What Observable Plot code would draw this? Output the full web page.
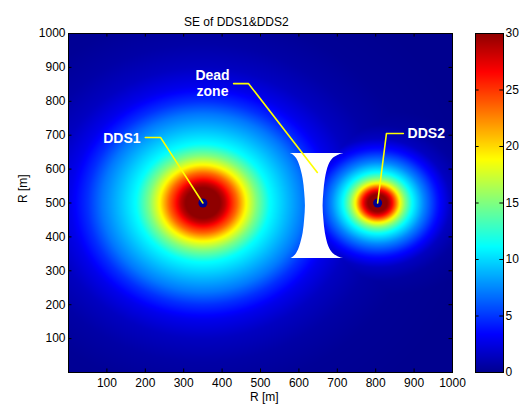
<!DOCTYPE html>
<html><head><meta charset="utf-8">
<script src="https://cdn.jsdelivr.net/npm/d3@7"></script>
<script src="https://cdn.jsdelivr.net/npm/@observablehq/plot@0.6"></script>
<style>
body{margin:0;background:#fff;}
#wrap{position:relative;width:521px;height:408px;font-family:"Liberation Sans",Arial,sans-serif;}
#wrap svg{position:absolute;top:0;}
</style></head><body><div id="wrap"></div>
<script>
// ---- data ----
const title = "SE of DDS1&DDS2";
const xLabel = "R [m]";
const yLabel = "R [m]";
const xTicks = [100, 200, 300, 400, 500, 600, 700, 800, 900, 1000];
const yTicks = [100, 200, 300, 400, 500, 600, 700, 800, 900, 1000];
const cbTicks = [0, 5, 10, 15, 20, 25, 30];
const cbInnerTicks = [5, 10, 15, 20, 25];
const sourceNames = ["DDS1", "DDS2"];
const sourceX = [350, 805];
const sourceY = [500, 500];
// radial SE profiles (distance in m -> SE)
const dds1Dist = [0, 45, 58, 70, 89, 112, 140, 174, 220, 263, 300, 345, 400, 470, 560, 700];
const dds1SE   = [30, 30, 28.5, 26.3, 23.4, 19, 15, 11.2, 9, 7, 4.8, 2.8, 1.5, 0.7, 0.2, 0];
const dds2Dist = [0, 25, 32, 39, 47, 58, 72, 90, 120, 155, 190, 230, 300];
const dds2SE   = [30, 30, 28.5, 26.3, 23.4, 18.8, 15, 11.2, 7.5, 4, 1.5, 0.5, 0];
// dead zone outline
const deadY     = [336, 341, 351, 371, 411, 451, 491, 531, 571, 611, 631, 641, 646];
const deadLeft  = [578, 586, 594, 602, 611, 615, 617, 615, 611, 602, 594, 586, 578];
const deadRight = [717, 703, 689, 678, 669, 665, 663, 665, 669, 678, 689, 703, 717];
// annotations
const centeredText = ["DDS1", "Dead\nzone"];
const centeredX = [139, 375];
const centeredY = [693, 855];
const startText = ["DDS2"];
const startX = [883];
const startY = [708];
const leaderId = ["a", "a", "a", "b", "b", "b", "c", "c", "c"];
const leaderX  = [200, 240, 350, 430, 469, 648, 872, 828, 805];
const leaderY  = [693, 693, 500, 852, 852, 590, 705, 705, 500];

// ---- derived tables ----
const sources = sourceNames.map((n, i) => ({name: n, x: sourceX[i], y: sourceY[i], v: 0}));
const deadRows = deadY.map((y, i) => ({y, left: deadLeft[i], right: deadRight[i]}));
const centered = centeredText.map((t, i) => ({t, x: centeredX[i], y: centeredY[i]}));
const started = startText.map((t, i) => ({t, x: startX[i], y: startY[i]}));
const leaders = leaderId.map((id, i) => ({id, x: leaderX[i], y: leaderY[i]}));
const se1 = d3.scaleLinear(dds1Dist, dds1SE).clamp(true);
const se2 = d3.scaleLinear(dds2Dist, dds2SE).clamp(true);
const field = (x, y) => Math.max(
  se1(Math.hypot(x - sourceX[0], y - sourceY[0])),
  se2(Math.hypot(x - sourceX[1], y - sourceY[1])));

function jet(t) {
  const s = 1 / 64 + t * 62 / 64;
  const c = v => Math.max(0, Math.min(1, v));
  const r = c(Math.min(4 * s - 1.5, -4 * s + 4.5));
  const g = c(Math.min(4 * s - 0.5, -4 * s + 3.5));
  const b = c(Math.min(4 * s + 0.5, -4 * s + 2.5));
  return `rgb(${Math.round(r * 255)},${Math.round(g * 255)},${Math.round(b * 255)})`;
}
const colorScale = {type: "linear", domain: [0, 30], interpolate: jet, clamp: true};
const font = {fontFamily: "'Liberation Sans', Arial, sans-serif", fontSize: "12px", background: "transparent", color: "#000"};
const fmt = d => String(d);
const labelStyle = {fill: "white", fontWeight: "bold", fontSize: 14, lineHeight: 1.18};

const tx = 9, ty = 10.5;
const main = Plot.plot({
  width: 470, height: 408,
  marginLeft: 68, marginRight: 18, marginTop: 33, marginBottom: 36,
  x: {domain: [0, 1000]},
  y: {domain: [0, 1000]},
  color: colorScale,
  style: font,
  marks: [
    Plot.raster({x1: 0, y1: 0, x2: 1000, y2: 1000, fill: field, pixelSize: 1}),
    Plot.areaX(deadRows, {y: "y", x1: "left", x2: "right", fill: "white", curve: "catmull-rom"}),
    Plot.dot(sources, {x: "x", y: "y", r: 4.5, fill: "v"}),
    Plot.line(leaders, {x: "x", y: "y", z: "id", stroke: "#ffff00", strokeWidth: 1.6}),
    Plot.text(centered, {x: "x", y: "y", text: "t", textAnchor: "middle", ...labelStyle}),
    Plot.text(started, {x: "x", y: "y", text: "t", textAnchor: "start", ...labelStyle}),
    Plot.frame({stroke: "black"}),
    Plot.ruleX(xTicks, {x: d => d, y1: 0, y2: ty, stroke: "black"}),
    Plot.ruleX(xTicks, {x: d => d, y1: 1000 - ty, y2: 1000, stroke: "black"}),
    Plot.ruleY(yTicks, {y: d => d, x1: 0, x2: tx, stroke: "black"}),
    Plot.ruleY(yTicks, {y: d => d, x1: 1000 - tx, x2: 1000, stroke: "black"}),
    Plot.axisX({ticks: xTicks, tickFormat: fmt, tickSize: 0, tickPadding: 6, label: null}),
    Plot.axisY({ticks: yTicks, tickFormat: fmt, tickSize: 0, tickPadding: 3, label: null}),
    Plot.text([title], {x: 437, frameAnchor: "top", dy: -16, fontSize: 12}),
    Plot.text([xLabel], {x: 510, frameAnchor: "bottom", dy: 28, fontSize: 12}),
    Plot.text([yLabel], {y: 500, frameAnchor: "left", dx: -45, rotate: -90, fontSize: 12})
  ]
});
main.style.left = "0px";

const bar = Plot.plot({
  width: 51, height: 408,
  marginLeft: 5, marginRight: 18, marginTop: 33, marginBottom: 36,
  x: {domain: [0, 1], axis: null},
  y: {domain: [0, 30]},
  color: colorScale,
  style: font,
  marks: [
    Plot.raster({x1: 0, x2: 1, y1: 0, y2: 30, fill: (x, y) => y, pixelSize: 1}),
    Plot.frame({stroke: "black"}),
    Plot.ruleY(cbInnerTicks, {y: d => d, x1: 0, x2: 0.13, stroke: "black"}),
    Plot.ruleY(cbInnerTicks, {y: d => d, x1: 0.87, x2: 1, stroke: "black"}),
    Plot.axisY({anchor: "right", ticks: cbTicks, tickFormat: fmt, tickSize: 0, tickPadding: 2, label: null})
  ]
});
bar.style.left = "470px";

const wrap = document.getElementById("wrap");
wrap.append(main, bar);
</script></body></html>
